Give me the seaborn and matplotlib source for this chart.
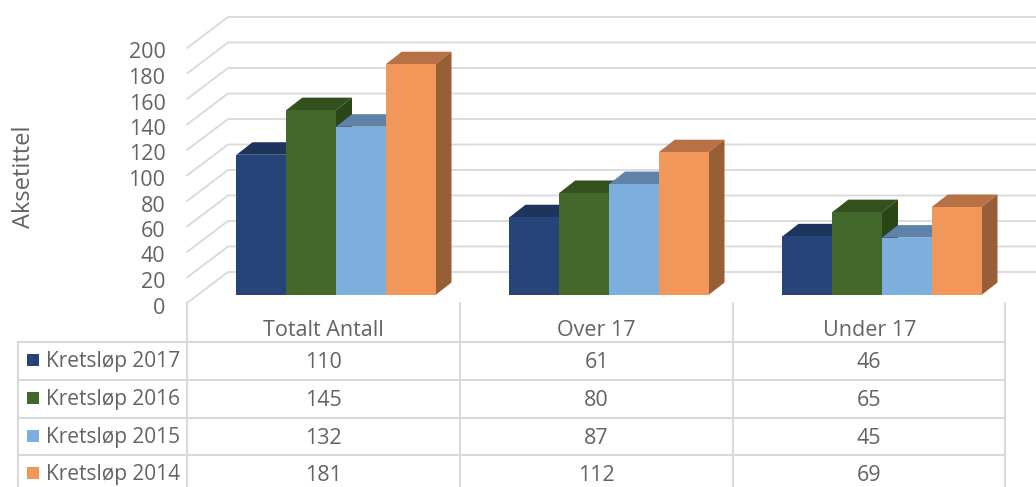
import matplotlib
matplotlib.use("Agg")
import matplotlib.pyplot as plt
import matplotlib.transforms as mtrans
from matplotlib.lines import Line2D
from matplotlib.patches import Polygon, Rectangle
import pandas as pd
import seaborn as sns

categories = ["Totalt Antall", "Over 17", "Under 17"]
series_names = ["Kretsløp 2017", "Kretsløp 2016", "Kretsløp 2015", "Kretsløp 2014"]
values_2017 = [110, 61, 46]
values_2016 = [145, 80, 65]
values_2015 = [132, 87, 45]
values_2014 = [181, 112, 69]
y_ticks = list(range(0, 201, 20))
axis_title = "Aksetittel"

front_colors = ["#264478", "#43682B", "#7CAFDD", "#F1975A"]
top_colors = ["#1D345C", "#33501F", "#5F83A8", "#B87144"]
side_colors = ["#182C4E", "#2A4516", "#4E6E8E", "#985F37"]
GRID = "#D9D9D9"
TEXT = "#636363"

W, H = 1036, 487
sns.set_theme(style="white")
plt.rcParams["font.family"] = ["Open Sans", "DejaVu Sans"]

df = pd.DataFrame({
    "Kategori": categories * 4,
    "Serie": [s for s in series_names for _ in categories],
    "Antall": values_2017 + values_2016 + values_2015 + values_2014,
})

fig = plt.figure(figsize=(W / 100, H / 100), dpi=100, facecolor="white")
PX_LEFT, PX_RIGHT, PX_BASE, PX_TOP = 187, 1005, 295, 40
ax = fig.add_axes([PX_LEFT / W, 1 - PX_BASE / H, (PX_RIGHT - PX_LEFT) / W, (PX_BASE - PX_TOP) / H])
px = mtrans.Affine2D().scale(1, -1).translate(0, H)

sns.barplot(data=df, x="Kategori", y="Antall", hue="Serie", order=categories, hue_order=series_names,
            palette=front_colors, width=0.729, gap=0, saturation=1, legend=False, ax=ax)

PPX = 273.0
PPY = (PX_BASE - PX_TOP) / 200.0
x_min = (PX_LEFT - 336) / PPX
x_max = (PX_RIGHT - 336) / PPX
ax.set_xlim(x_min, x_max)
ax.set_ylim(0, 200)
ax.patch.set_alpha(0)
sns.despine(ax=ax, left=True, bottom=True)
ax.grid(False)

# Perspective grid on the side and back walls
for v in y_ticks:
    xs = [x_min, x_min + 41 / PPX, x_max + 41 / PPX]
    ys = [v - 8 / PPY, v + 23 / PPY, v + 23 / PPY]
    ax.plot(xs, ys, color=GRID, lw=1.3, clip_on=False, zorder=1, solid_joinstyle="miter")

# Depth faces of the bars
ddx, ddy = 16 / PPX, 12.5 / PPY
for i, container in enumerate(ax.containers):
    for bar in container:
        x0, w, v = bar.get_x(), bar.get_width(), bar.get_height()
        x1 = x0 + w
        ax.add_patch(Polygon([(x0, v), (x1, v), (x1 + ddx, v + ddy), (x0 + ddx, v + ddy)],
                             closed=True, fc=top_colors[i], ec="none", clip_on=False, zorder=3 + 2 * i))
        ax.add_patch(Polygon([(x1, 0), (x1, v), (x1 + ddx, v + ddy), (x1 + ddx, ddy)],
                             closed=True, fc=side_colors[i], ec="none", clip_on=False, zorder=3 + 2 * i))
        bar.set_zorder(4 + 2 * i)
        bar.set_edgecolor("none")

# Axis labels
ax.set_xlabel("")
ax.set_yticks(y_ticks)
ax.tick_params(axis="y", length=0, pad=15.5, labelsize=15.5, labelcolor=TEXT)
ax.tick_params(axis="x", length=0, pad=18, labelsize=15.5, labelcolor=TEXT)
for t in ax.get_yticklabels():
    t.set_transform(t.get_transform() + mtrans.Affine2D().translate(0, -10.5))
for t in ax.get_xticklabels():
    t.set_transform(t.get_transform() + mtrans.Affine2D().translate(-12.5, 0))
ax.set_ylabel(axis_title, fontsize=17, color=TEXT)
ax.yaxis.set_label_coords(36, 177, transform=px)

# Data table
rows = [342, 379.5, 418, 455]
cols = [187, 460, 733, 1005]
for r in rows:
    fig.add_artist(Line2D([18, 1005], [r, r], color=GRID, lw=1.5, transform=px))
fig.add_artist(Line2D([18, 18], [rows[0], H], color=GRID, lw=1.5, transform=px))
for c in cols:
    fig.add_artist(Line2D([c, c], [303, H], color=GRID, lw=1.5, transform=px))

row_centers = [360, 398, 436, 473]
col_centers = [323.5, 596.5, 869]
table = [values_2017, values_2016, values_2015, values_2014]
for name, color, rc, vals in zip(series_names, front_colors, row_centers, table):
    fig.add_artist(Rectangle((27, rc - 6), 12, 12, fc=color, ec="none", transform=px))
    fig.text(45.5, rc + 1.5, name, transform=px, ha="left", va="center", fontsize=15, color=TEXT)
    for cc, val in zip(col_centers, vals):
        fig.text(cc, rc + 2.5, str(val), transform=px, ha="center", va="center", fontsize=15.5, color=TEXT)

fig.savefig("out.png", dpi=100, facecolor="white")
